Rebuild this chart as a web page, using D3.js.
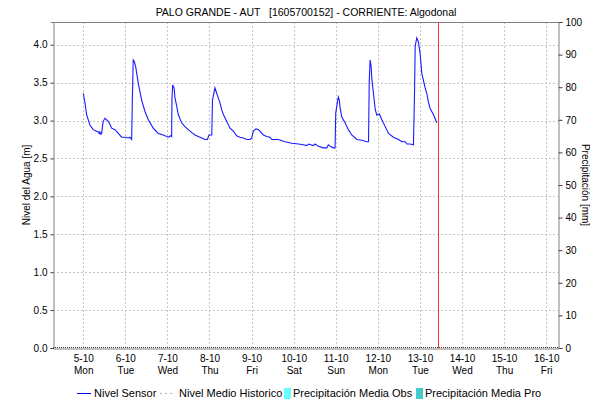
<!DOCTYPE html>
<html>
<head>
<meta charset="utf-8">
<script src="https://cdn.jsdelivr.net/npm/d3@7"></script>
<style>
  html, body { margin: 0; padding: 0; background: #fff; }
  svg { display: block; font-family: "Liberation Sans", Arial, sans-serif; }
</style>
</head>
<body>
<svg id="chart" width="590" height="405"></svg>
<script>
// ---------- DATA ----------
const title = "PALO GRANDE - AUT   [1605700152] - CORRIENTE: Algodonal";
const leftAxisTitle = "Nivel del Agua [m]";
const rightAxisTitle = "Precipitación [mm]";
const baseDate = "2020-10-05T00:00:00";          // 5-10 (Mon) 00:00
const domainStartHours = -17.25;                  // 4-10 06:45
const domainEndHours = 270.75;                    // 16-10 06:45
const tickDays = [0,1,2,3,4,5,6,7,8,9,10,11];     // 5-10 ... 16-10
const levelTicks = [0.0,0.5,1.0,1.5,2.0,2.5,3.0,3.5,4.0];
const levelMax = 4.3;
const precipTicks = [0,10,20,30,40,50,60,70,80,90,100];
const precipMax = 100;
const nowHours = 202.4;                           // red "now" marker

// Nivel Sensor: hours since 5-10 00:00, water level [m]
const sensorHours = [
  0, 1.0, 1.9, 3.8, 5.7, 7.6, 8.6, 9.1, 9.5, 10.1, 10.5, 11.0, 11.4, 12.4, 13.4, 14.3, 15.2, 16.2, 18.1, 20.0, 21.9, 23.8, 25.7, 26.6, 27.6,
  28.0, 28.5, 29.1, 29.9, 31.4, 33.3, 35.2, 37.1, 39.9, 42.8, 45.6, 48.5, 49.9, 50.4,
  50.6, 51.0, 51.8, 52.3, 53.3, 54.2, 56.1, 58.0, 59.9, 61.9, 63.7, 65.6, 67.6, 69.4, 70.8, 71.7, 73.3,
  73.7, 75.1, 76.1, 77.0, 78.0, 79.0, 79.9, 81.8, 83.7, 85.6, 87.5, 89.4, 91.3, 93.2, 95.1,
  96.1, 97.0, 98.5, 99.9, 100.8, 102.7, 104.6, 106.5, 107.5, 111.3, 115.1, 118.9, 122.7, 125.5, 127.5, 128.4, 131.2, 132.2, 134.1, 136.9, 138.9, 139.8, 140.8, 142.6, 143.6,
  144.0, 144.6, 145.1, 145.5, 146.0, 146.4, 147.4, 149.3, 151.2, 153.1, 156.0, 158.9, 161.7, 162.7,
  163.1, 163.6, 164.2, 164.6, 165.5, 166.5, 167.4, 168.8, 170.3, 172.2, 174.1, 176.9, 179.8, 181.7, 183.6, 184.6, 186.4, 188.3,
  188.9, 189.3, 190.2, 191.1, 192.1, 193.1, 194.0, 195.0, 195.9, 196.8, 197.8, 199.7, 200.6, 201.6
];
const sensorLevel = [
  3.36, 3.23, 3.08, 2.94, 2.88, 2.86, 2.85, 2.83, 2.85, 2.82, 2.83, 2.93, 2.99, 3.03, 3.01, 2.99, 2.95, 2.90, 2.88, 2.83, 2.78, 2.78, 2.77, 2.78, 2.75,
  3.27, 3.80, 3.78, 3.71, 3.49, 3.27, 3.12, 3.01, 2.90, 2.83, 2.81, 2.78, 2.80, 2.79,
  3.30, 3.47, 3.43, 3.30, 3.19, 3.08, 2.97, 2.92, 2.88, 2.84, 2.81, 2.79, 2.77, 2.75, 2.75, 2.81, 2.81,
  3.27, 3.43, 3.36, 3.30, 3.23, 3.14, 3.08, 2.99, 2.90, 2.86, 2.80, 2.78, 2.77, 2.75, 2.75,
  2.77, 2.86, 2.89, 2.88, 2.86, 2.81, 2.79, 2.78, 2.75, 2.75, 2.72, 2.70, 2.69, 2.68, 2.67, 2.69, 2.67, 2.69, 2.66, 2.64, 2.64, 2.68, 2.66, 2.64, 2.64,
  3.10, 3.19, 3.27, 3.31, 3.27, 3.18, 3.05, 2.97, 2.88, 2.81, 2.75, 2.74, 2.72, 2.72,
  3.52, 3.80, 3.71, 3.54, 3.36, 3.15, 3.07, 3.09, 3.01, 2.92, 2.83, 2.78, 2.75, 2.72, 2.72, 2.69, 2.69, 2.68,
  3.32, 3.98, 4.09, 4.04, 3.89, 3.62, 3.53, 3.43, 3.36, 3.25, 3.16, 3.08, 3.03, 2.97
];

const legendItems = [
  {label: "Nivel Sensor", type: "line"},
  {label: "Nivel Medio Historico", type: "dots"},
  {label: "Precipitación Media Obs", type: "box1"},
  {label: "Precipitación Media Pro", type: "box2"}
];

// ---------- CHART ----------
const W = 590, H = 405;
const m = {left: 53, right: 32, top: 22, bottom: 57};
const svg = d3.select("#chart");
const base = new Date(baseDate);
const hToDate = h => new Date(base.getTime() + h * 3600e3);

const x = d3.scaleTime()
  .domain([hToDate(domainStartHours), hToDate(domainEndHours)])
  .range([m.left, W - m.right]);
const y = d3.scaleLinear().domain([0, levelMax]).range([H - m.bottom, m.top]);
const y2 = d3.scaleLinear().domain([0, precipMax]).range([H - m.bottom, m.top]);

const tickDates = tickDays.map(d => hToDate(d * 24));
const gridColor = "#c4c4c4";

// grid
const grid = svg.append("g");
grid.selectAll("line.h").data(levelTicks.filter(t => t > 0)).join("line")
  .attr("x1", m.left).attr("x2", W - m.right)
  .attr("y1", d => Math.round(y(d)) + 0.5).attr("y2", d => Math.round(y(d)) + 0.5)
  .attr("stroke", gridColor).attr("stroke-dasharray", "2,2");
grid.selectAll("line.v").data(tickDates).join("line")
  .attr("x1", d => Math.round(x(d)) + 0.5).attr("x2", d => Math.round(x(d)) + 0.5)
  .attr("y1", m.top).attr("y2", H - m.bottom)
  .attr("stroke", gridColor).attr("stroke-dasharray", "2,2");

// frame
svg.append("line").attr("x1", m.left).attr("x2", W - m.right)
  .attr("y1", m.top + 0.5).attr("y2", m.top + 0.5).attr("stroke", "#808080");

// left axis
const yAxis = d3.axisLeft(y).tickValues(levelTicks).tickFormat(d3.format(".1f")).tickSize(3).tickPadding(3);
const gy = svg.append("g").attr("transform", `translate(${m.left + 0.5},0)`).call(yAxis);
gy.select(".domain").attr("stroke", "#808080");
gy.selectAll(".tick line").attr("stroke", "#404040");
gy.selectAll("text").attr("font-size", 10).attr("fill", "#000").attr("font-family", "Liberation Sans, Arial, sans-serif");

// right axis
const y2Axis = d3.axisRight(y2).tickValues(precipTicks).tickSize(4).tickPadding(3);
const gy2 = svg.append("g").attr("transform", `translate(${W - m.right + 0.5},0)`).call(y2Axis);
gy2.select(".domain").attr("stroke", "#808080");
gy2.selectAll(".tick line").attr("stroke", "#404040");
gy2.selectAll("text").attr("font-size", 10).attr("fill", "#000").attr("font-family", "Liberation Sans, Arial, sans-serif");

// bottom axis
const xAxis = d3.axisBottom(x).tickValues(tickDates).tickSize(0).tickPadding(5).tickFormat(() => "");
const gx = svg.append("g").attr("transform", `translate(0,${H - m.bottom + 0.5})`).call(xAxis);
gx.select(".domain").attr("stroke", "#808080");
const fmtDate = d3.timeFormat("%-d-%m");
const fmtDay = d3.timeFormat("%a");
gx.selectAll(".tick").each(function(d) {
  const t = d3.select(this).select("text").attr("font-size", 10).attr("fill", "#000")
    .attr("font-family", "Liberation Sans, Arial, sans-serif").attr("y", 4).attr("dy", 0).text(null);
  t.append("tspan").attr("x", 0).attr("dy", "0.95em").text(fmtDate(d));
  t.append("tspan").attr("x", 0).attr("dy", "1.15em").text(fmtDay(d));
});
// dark dotted baseline
svg.append("line").attr("x1", m.left).attr("x2", W - m.right)
  .attr("y1", H - m.bottom - 0.5).attr("y2", H - m.bottom - 0.5)
  .attr("stroke", "#303030").attr("stroke-dasharray", "1,1");

// sensor line
const pts = sensorHours.map((h, i) => [hToDate(h), sensorLevel[i]]);
svg.append("path").datum(pts)
  .attr("fill", "none").attr("stroke", "#1a1aff").attr("stroke-width", 1.1)
  .attr("d", d3.line().x(d => x(d[0])).y(d => y(d[1])));

// now marker
svg.append("line")
  .attr("x1", Math.round(x(hToDate(nowHours))) + 0.5).attr("x2", Math.round(x(hToDate(nowHours))) + 0.5)
  .attr("y1", m.top).attr("y2", H - m.bottom)
  .attr("stroke", "#ff3030").attr("stroke-width", 1);

// title
svg.append("text").attr("x", 306).attr("y", 16).attr("text-anchor", "middle")
  .attr("font-size", 10.5).attr("fill", "#000").style("white-space", "pre").text(title);

// axis titles
svg.append("text").attr("transform", `translate(30,${(m.top + H - m.bottom) / 2}) rotate(-90)`)
  .attr("text-anchor", "middle").attr("font-size", 10).attr("fill", "#000").text(leftAxisTitle);
svg.append("text").attr("transform", `translate(582,${(m.top + H - m.bottom) / 2}) rotate(90)`)
  .attr("text-anchor", "middle").attr("font-size", 10).attr("fill", "#000").text(rightAxisTitle);

// legend
const ly = 393;
const lg = svg.append("g").attr("font-size", 11);
const legendX = [77, 160, 284, 416];
legendItems.forEach((it, i) => {
  const lx = legendX[i];
  let tx;
  if (it.type === "line") {
    lg.append("line").attr("x1", lx).attr("x2", lx + 14).attr("y1", ly + 0.5).attr("y2", ly + 0.5)
      .attr("stroke", "#0000ff");
    tx = lx + 17;
  } else if (it.type === "dots") {
    lg.append("line").attr("x1", lx).attr("x2", lx + 15).attr("y1", ly + 0.5).attr("y2", ly + 0.5)
      .attr("stroke", "#b4b4b4").attr("stroke-dasharray", "2,3");
    tx = lx + 19;
  } else {
    lg.append("rect").attr("x", lx).attr("y", ly - 5).attr("width", 7).attr("height", 11)
      .attr("fill", it.type === "box1" ? "#66ffff" : "#44cccc");
    tx = lx + 9;
  }
  lg.append("text").attr("x", tx).attr("y", ly + 4).attr("fill", "#000").text(it.label);
});
</script>
</body>
</html>
